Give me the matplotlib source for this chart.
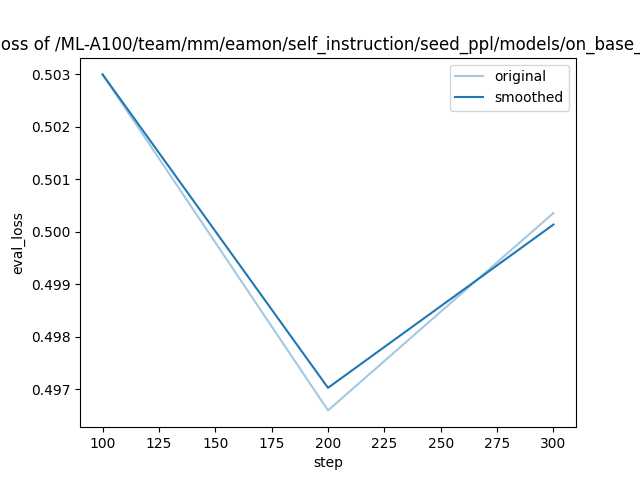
import matplotlib
matplotlib.use("Agg")
import matplotlib.pyplot as plt

# eval loss at each checkpoint
steps = [100, 200, 300]
original = [0.50300, 0.49660, 0.50036]
smoothed = [0.50300, 0.49703, 0.50014]

title = "eval_loss of /ML-A100/team/mm/eamon/self_instruction/seed_ppl/models/on_base_models"

fig, ax = plt.subplots(figsize=(6.4, 4.8), dpi=100)
ax.plot(steps, original, color="#1f77b4", alpha=0.4, label="original")
ax.plot(steps, smoothed, color="#1f77b4", label="smoothed")
ax.set_xlabel("step")
ax.set_ylabel("eval_loss")
ax.set_title(title)
ax.legend()

fig.savefig("out.png")
